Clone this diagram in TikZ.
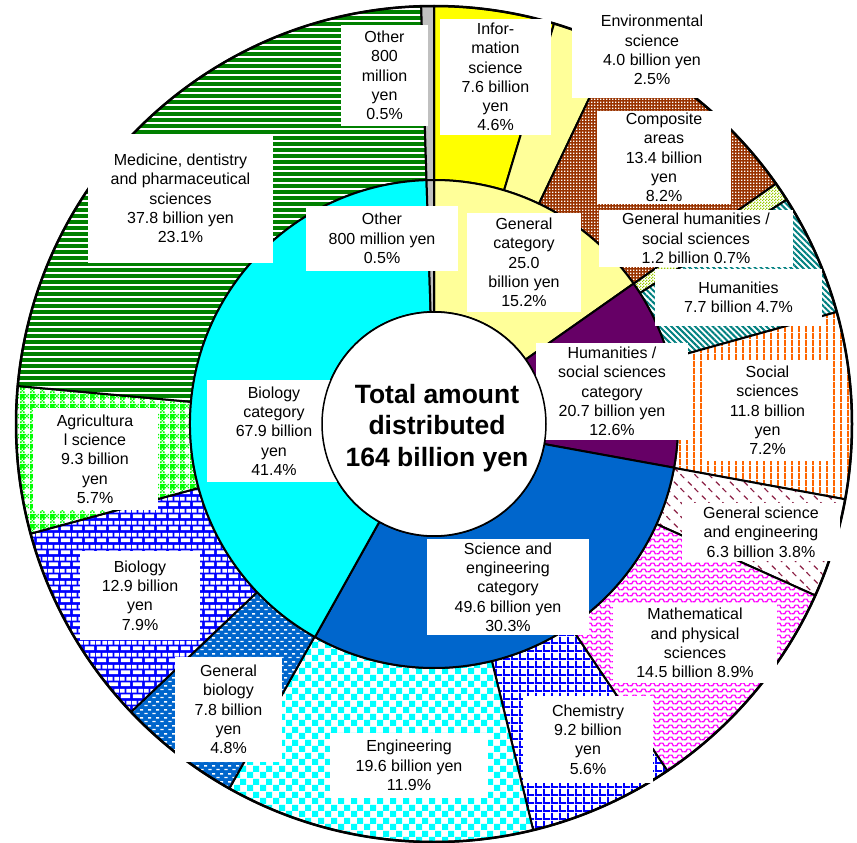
\documentclass[tikz,border=0pt]{standalone}
\usepackage{fontspec}
\setmainfont{Liberation Sans}
\usetikzlibrary{patterns,patterns.meta}

\definecolor{infoY}{HTML}{FFFF00}
\definecolor{paleY}{HTML}{FFFF99}
\definecolor{compBrown}{HTML}{993300}
\definecolor{ghGreen}{HTML}{99CC00}
\definecolor{humTeal}{HTML}{008080}
\definecolor{socOrange}{HTML}{FF6600}
\definecolor{hsPurple}{HTML}{660066}
\definecolor{gsMaroon}{HTML}{8C2045}
\definecolor{mathMag}{HTML}{FF00FF}
\definecolor{chemBlue}{HTML}{0000FF}
\definecolor{engCyan}{HTML}{00FFFF}
\definecolor{sciBlue}{HTML}{0066CC}
\definecolor{medGreen}{HTML}{008000}
\definecolor{agriGreen}{HTML}{00FF00}
\definecolor{otherGray}{HTML}{C0C0C0}

% small square used by the plaid tile
\newcommand\pqsq[2]{\pgfpathrectangle{\pgfpoint{#1pt}{#2pt}}{\pgfpoint{1.6667pt}{1.6667pt}}}

% plaid: solid crossings, half-tone bands
\pgfdeclarepatternformonly{plaidsq}{\pgfqpoint{0pt}{0pt}}{\pgfqpoint{10pt}{10pt}}{\pgfqpoint{10pt}{10pt}}{%
  \pgfpathrectangle{\pgfqpoint{0pt}{5pt}}{\pgfqpoint{5pt}{5pt}}%
  \pqsq{0}{0}\pqsq{3.3333}{0}\pqsq{1.6667}{1.6667}\pqsq{0}{3.3333}\pqsq{3.3333}{3.3333}%
  \pqsq{5}{5}\pqsq{8.3333}{5}\pqsq{6.6667}{6.6667}\pqsq{5}{8.3333}\pqsq{8.3333}{8.3333}%
  \pgfusepath{fill}}

% bricks (drawn as the brick faces)
\pgfdeclarepatternformonly{brickface}{\pgfqpoint{0pt}{0pt}}{\pgfqpoint{12pt}{12pt}}{\pgfqpoint{12pt}{12pt}}{%
  \pgfpathrectangle{\pgfqpoint{1pt}{1pt}}{\pgfqpoint{10pt}{4pt}}%
  \pgfpathrectangle{\pgfqpoint{7pt}{7pt}}{\pgfqpoint{5pt}{4pt}}%
  \pgfpathrectangle{\pgfqpoint{0pt}{7pt}}{\pgfqpoint{5pt}{4pt}}%
  \pgfusepath{fill}}

% short horizontal dashes, staggered
\pgfdeclarepatternformonly{shortdash}{\pgfqpoint{0pt}{0pt}}{\pgfqpoint{8pt}{8pt}}{\pgfqpoint{8pt}{8pt}}{%
  \pgfpathrectangle{\pgfqpoint{0.5pt}{1pt}}{\pgfqpoint{3.5pt}{1.5pt}}%
  \pgfpathrectangle{\pgfqpoint{4.5pt}{5pt}}{\pgfqpoint{3.5pt}{1.5pt}}%
  \pgfusepath{fill}}

% coarse checkerboard
\pgfdeclarepatternformonly{bigcheck}{\pgfqpoint{0pt}{0pt}}{\pgfqpoint{13pt}{13pt}}{\pgfqpoint{13pt}{13pt}}{%
  \pgfpathrectangle{\pgfqpoint{0pt}{0pt}}{\pgfqpoint{6.5pt}{6.5pt}}%
  \pgfpathrectangle{\pgfqpoint{6.5pt}{6.5pt}}{\pgfqpoint{6.5pt}{6.5pt}}%
  \pgfusepath{fill}}

% fine checkerboard
\pgfdeclarepatternformonly{finecheck}{\pgfqpoint{0pt}{0pt}}{\pgfqpoint{3pt}{3pt}}{\pgfqpoint{3pt}{3pt}}{%
  \pgfpathrectangle{\pgfqpoint{0pt}{0pt}}{\pgfqpoint{1.5pt}{1.5pt}}%
  \pgfpathrectangle{\pgfqpoint{1.5pt}{1.5pt}}{\pgfqpoint{1.5pt}{1.5pt}}%
  \pgfusepath{fill}}

% square grid
\pgfdeclarepatternformonly{sqgrid}{\pgfqpoint{0pt}{0pt}}{\pgfqpoint{7.5pt}{7.5pt}}{\pgfqpoint{7.5pt}{7.5pt}}{%
  \pgfpathrectangle{\pgfqpoint{0pt}{0pt}}{\pgfqpoint{7.5pt}{2pt}}%
  \pgfpathrectangle{\pgfqpoint{0pt}{0pt}}{\pgfqpoint{2pt}{7.5pt}}%
  \pgfusepath{fill}}

% vertical stripes
\pgfdeclarepatternformonly{vstripe}{\pgfqpoint{0pt}{0pt}}{\pgfqpoint{7pt}{7pt}}{\pgfqpoint{7pt}{7pt}}{%
  \pgfpathrectangle{\pgfqpoint{0pt}{0pt}}{\pgfqpoint{2.2pt}{7pt}}%
  \pgfusepath{fill}}

% small dots grid
\pgfdeclarepatternformonly{dotgrid}{\pgfqpoint{0pt}{0pt}}{\pgfqpoint{3.4pt}{3.4pt}}{\pgfqpoint{3.4pt}{3.4pt}}{%
  \pgfpathrectangle{\pgfqpoint{0pt}{0pt}}{\pgfqpoint{1.5pt}{1.5pt}}%
  \pgfusepath{fill}}

% wave lines
\pgfdeclarepatternformonly{wavy}{\pgfqpoint{0pt}{0pt}}{\pgfqpoint{9pt}{6pt}}{\pgfqpoint{9pt}{6pt}}{%
  \pgfsetlinewidth{1.4pt}%
  \pgfpathmoveto{\pgfqpoint{-0.5pt}{1.5pt}}%
  \pgfpathlineto{\pgfqpoint{2pt}{1.5pt}}%
  \pgfpathlineto{\pgfqpoint{3.5pt}{4.5pt}}%
  \pgfpathlineto{\pgfqpoint{6.5pt}{4.5pt}}%
  \pgfpathlineto{\pgfqpoint{8pt}{1.5pt}}%
  \pgfpathlineto{\pgfqpoint{9.5pt}{1.5pt}}%
  \pgfusepath{stroke}}

% sparse diagonal dashes
\pgfdeclarepatternformonly{diagdash}{\pgfqpoint{0pt}{0pt}}{\pgfqpoint{14pt}{14pt}}{\pgfqpoint{14pt}{14pt}}{%
  \pgfsetlinewidth{1.3pt}%
  \pgfpathmoveto{\pgfqpoint{2pt}{12pt}}\pgfpathlineto{\pgfqpoint{6pt}{8pt}}%
  \pgfpathmoveto{\pgfqpoint{9pt}{5pt}}\pgfpathlineto{\pgfqpoint{13pt}{1pt}}%
  \pgfusepath{stroke}}

% one ring segment between two cumulative amounts
\newcommand\ringpart[5]{%
  \pgfmathsetmacro\sa{90-(#1/\tot)*360}%
  \pgfmathsetmacro\ea{90-(#2/\tot)*360}%
  \path[#5] (\sa:#3pt) -- (\sa:#4pt) arc[start angle=\sa, end angle=\ea, radius=#4pt]
    -- (\ea:#3pt) arc[start angle=\ea, end angle=\sa, radius=#3pt] -- cycle;}

\begin{document}
\begin{tikzpicture}[x=1pt,y=1pt,
  seg/.style={draw=black, line width=2pt, line join=round},
  lbl/.style={fill=white, inner sep=0pt, align=center,
    font=\fontsize{16}{19.3}\selectfont}]
\useasboundingbox (0,0) rectangle (857,-843);

\begin{scope}[shift={(434,-424)}]
  % outer ring: fields
  \def\tot{163.9}
  \ringpart{0}{7.6}{244}{418}{seg, fill=infoY}
  \ringpart{7.6}{11.6}{244}{418}{seg, fill=paleY}
  \ringpart{11.6}{25.0}{244}{418}{seg, preaction={fill=compBrown}, pattern=dotgrid, pattern color=white}
  \ringpart{25.0}{26.2}{244}{418}{seg, preaction={fill=white}, pattern=finecheck, pattern color=ghGreen}
  \ringpart{26.2}{33.9}{244}{418}{seg, preaction={fill=white}, pattern={Lines[angle=-45, distance=4.2pt, line width=2pt]}, pattern color=humTeal}
  \ringpart{33.9}{45.7}{244}{418}{seg, preaction={fill=white}, pattern=vstripe, pattern color=socOrange}
  \ringpart{45.7}{52.0}{244}{418}{seg, preaction={fill=white}, pattern=diagdash, pattern color=gsMaroon}
  \ringpart{52.0}{66.5}{244}{418}{seg, preaction={fill=white}, pattern=wavy, pattern color=mathMag}
  \ringpart{66.5}{75.7}{244}{418}{seg, preaction={fill=white}, pattern=sqgrid, pattern color=chemBlue}
  \ringpart{75.7}{95.3}{244}{418}{seg, preaction={fill=white}, pattern=bigcheck, pattern color=engCyan}
  \ringpart{95.3}{103.1}{244}{418}{seg, preaction={fill=sciBlue}, pattern=shortdash, pattern color=white}
  \ringpart{103.1}{116.0}{244}{418}{seg, preaction={fill=chemBlue}, pattern=brickface, pattern color=white}
  \ringpart{116.0}{125.3}{244}{418}{seg, preaction={fill=white}, pattern=plaidsq, pattern color=agriGreen}
  \ringpart{125.3}{163.1}{244}{418}{seg, preaction={fill=medGreen}, pattern={Lines[angle=0, distance=6pt, line width=2pt]}, pattern color=white}
  \ringpart{163.1}{163.9}{244}{418}{seg, fill=otherGray}
  % inner ring: categories
  \def\tot{164.0}
  \ringpart{0}{25.0}{112}{244}{seg, fill=paleY}
  \ringpart{25.0}{45.7}{112}{244}{seg, fill=hsPurple}
  \ringpart{45.7}{95.3}{112}{244}{seg, fill=sciBlue}
  \ringpart{95.3}{163.2}{112}{244}{seg, fill=engCyan}
  \ringpart{163.2}{164.0}{112}{244}{seg, fill=otherGray}
  \draw[line width=2.5pt] (0,0) circle[radius=418pt];
\end{scope}

% field labels
\node[lbl, minimum width=87, minimum height=101] (othOut) at (384.5,-75.5) {Other\\800\\million\\yen\\0.5\%};
\node[lbl, minimum width=185, minimum height=129] (med) at (180.5,-198.5) {Medicine, dentistry\\and pharmaceutical\\sciences\\37.8 billion yen\\23.1\%};
\node[lbl, minimum width=111, minimum height=116] (info) at (495.5,-77) {Infor-\\mation\\science\\7.6 billion\\yen\\4.6\%};
\node[lbl, minimum width=160, minimum height=96] (env) at (652,-50) {Environmental\\science\\4.0 billion yen\\2.5\%};
\node[lbl, minimum width=134, minimum height=93] (comp) at (664,-157.5) {Composite\\areas\\13.4 billion\\yen\\8.2\%};
\node[lbl, minimum width=194, minimum height=57] (genhum) at (696,-238.5) {General humanities /\\social sciences\\1.2 billion 0.7\%};
\node[lbl, minimum width=167, minimum height=57] (hum) at (738.5,-297.5) {Humanities\\7.7 billion 4.7\%};
\node[lbl, minimum width=131, minimum height=101] (soc) at (767.5,-410.5) {Social\\sciences\\11.8 billion\\yen\\7.2\%};
\node[lbl, minimum width=158, minimum height=58] (gensci) at (761,-532) {General science\\and engineering\\6.3 billion 3.8\%};
\node[lbl, minimum width=164, minimum height=80] (math) at (695,-643) {Mathematical\\and physical\\sciences\\14.5 billion 8.9\%};
\node[lbl, minimum width=130, minimum height=87] (chem) at (588,-739.5) {Chemistry\\9.2 billion\\yen\\5.6\%};
\node[lbl, minimum width=158, minimum height=65] (eng) at (409,-765.5) {Engineering\\19.6 billion yen\\11.9\%};
\node[lbl, minimum width=107, minimum height=105] (genbio) at (228.5,-709.5) {General\\biology\\7.8 billion\\yen\\4.8\%};
\node[lbl, minimum width=120, minimum height=89] (bio) at (140,-595.5) {Biology\\12.9 billion\\yen\\7.9\%};
\node[lbl, minimum width=125, minimum height=102] (agri) at (95,-459) {Agricultura\\l science\\9.3 billion\\yen\\5.7\%};

% category labels
\node[lbl, minimum width=152, minimum height=65] (othIn) at (382,-238.5) {Other\\800 million yen\\0.5\%};
\node[lbl, minimum width=114, minimum height=99] (gencat) at (524,-262.5) {General\\category\\25.0\\billion yen\\15.2\%};
\node[lbl, minimum width=152, minimum height=97] (hscat) at (612,-391.5) {Humanities /\\social sciences\\category\\20.7 billion yen\\12.6\%};
\node[lbl, minimum width=162, minimum height=96] (scicat) at (508,-587) {Science and\\engineering\\category\\49.6 billion yen\\30.3\%};
\node[lbl, minimum width=134, minimum height=102] (biocat) at (274,-431) {Biology\\category\\67.9 billion\\yen\\41.4\%};

% hub with the total
\node[circle, draw=black, line width=1.5pt, fill=white, minimum size=224pt, inner sep=0pt] (hub) at (434,-424) {};
\node[font=\bfseries\fontsize{26.5}{31.5}\selectfont, align=center, inner sep=0pt] (hubtext) at (437,-428) {Total amount\\distributed\\164 billion yen};
\end{tikzpicture}
\end{document}
